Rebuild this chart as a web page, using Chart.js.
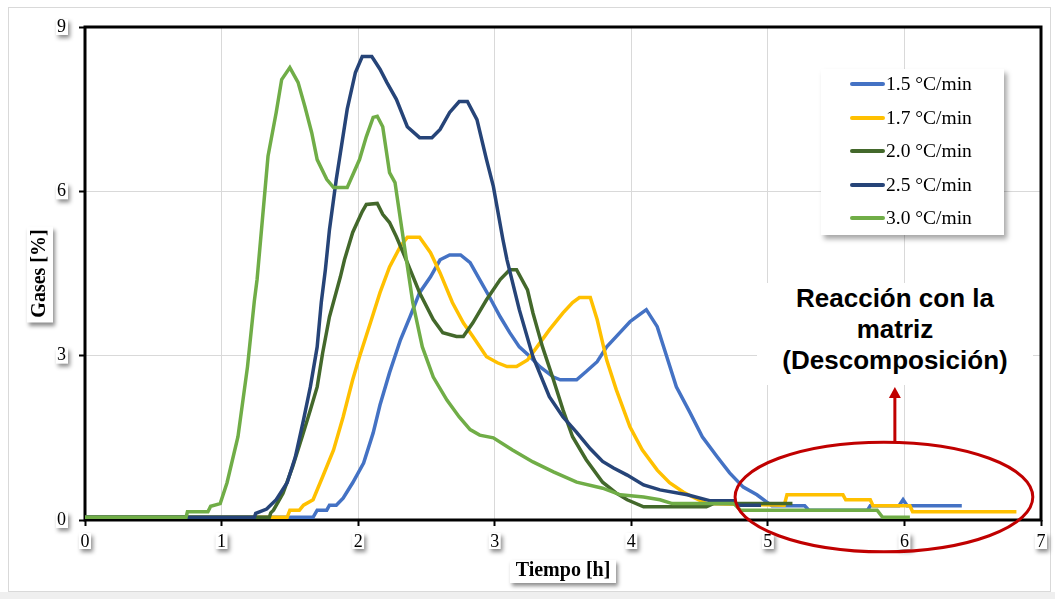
<!DOCTYPE html>
<html>
<head>
<meta charset="utf-8">
<script src="https://cdn.jsdelivr.net/npm/chart.js@4.4.1/dist/chart.umd.min.js"></script>
<style>
  html, body { margin: 0; padding: 0; background: #fff; }
  #wrap { position: relative; width: 1055px; height: 599px; overflow: hidden; }
  #chart { position: absolute; left: 0; top: 0; }
  #legend {
    position: absolute; left: 821px; top: 69px; width: 183px; height: 166px;
    background: #fff; box-shadow: 3px 4px 5px rgba(0,0,0,0.35);
    font-family: "Liberation Serif", "Times New Roman", serif; font-size: 19.5px; color: #000;
  }
  #legend .item { position: absolute; left: 29px; height: 20px; display: flex; align-items: center; white-space: nowrap; }
  #legend .sw { display: inline-block; width: 35px; height: 4px; border-radius: 2px; margin-right: 1px; }
  #note {
    position: absolute; left: 757px; top: 283px; width: 276px; height: 102px;
    background: #fff; text-align: center; line-height: 33px; color: #000;
    font: bold 26px "Liberation Sans", Arial, sans-serif;
  }
</style>
</head>
<body>
<div id="wrap">
  <canvas id="chart" width="1055" height="599"></canvas>
  <div id="legend"></div>
  <div id="note">Reacción con la<br>matriz<br>(Descomposición)</div>
</div>
<script>
// series names / colours
const seriesLabels = ["1.5 °C/min", "1.7 °C/min", "2.0 °C/min", "2.5 °C/min", "3.0 °C/min"];
const seriesColors = ["#4472C4", "#FFC000", "#43682B", "#264478", "#70AD47"];

// axis ticks
const xTicks = [0, 1, 2, 3, 4, 5, 6, 7];
const yTicks = [0, 3, 6, 9];

// 1.5 °C/min
const t15 = [0, 1.47, 1.48, 1.67, 1.70, 1.77, 1.79, 1.84, 1.89, 1.96, 2.04, 2.11, 2.16, 2.23, 2.31, 2.38, 2.45, 2.53, 2.60, 2.67, 2.75, 2.82, 2.89, 2.96, 3.04, 3.11, 3.18, 3.26, 3.33, 3.43, 3.48, 3.60, 3.67, 3.75, 3.82, 3.92, 3.99, 4.06, 4.11, 4.19, 4.26, 4.33, 4.43, 4.52, 4.63, 4.72, 4.82, 4.92, 4.99, 5.03, 5.27, 5.30, 5.73, 5.75, 5.96, 5.99, 6.02, 6.42];
const g15 = [0.05, 0.05, 0.05, 0.05, 0.18, 0.18, 0.27, 0.27, 0.40, 0.68, 1.04, 1.59, 2.10, 2.69, 3.29, 3.71, 4.15, 4.44, 4.75, 4.84, 4.84, 4.70, 4.39, 4.08, 3.71, 3.42, 3.16, 2.98, 2.80, 2.61, 2.56, 2.56, 2.71, 2.89, 3.16, 3.43, 3.62, 3.75, 3.84, 3.53, 2.98, 2.43, 1.96, 1.52, 1.15, 0.86, 0.60, 0.46, 0.33, 0.26, 0.26, 0.18, 0.18, 0.26, 0.26, 0.37, 0.26, 0.26];

// 1.7 °C/min
const t17 = [0, 1.25, 1.26, 1.48, 1.50, 1.57, 1.60, 1.67, 1.74, 1.82, 1.89, 1.96, 2.01, 2.09, 2.16, 2.23, 2.31, 2.36, 2.45, 2.53, 2.60, 2.69, 2.77, 2.84, 2.94, 3.02, 3.09, 3.16, 3.24, 3.31, 3.40, 3.50, 3.57, 3.62, 3.70, 3.75, 3.82, 3.89, 3.99, 4.08, 4.19, 4.28, 4.38, 4.45, 4.55, 5.12, 5.14, 5.55, 5.57, 5.75, 5.77, 6.04, 6.06, 6.82];
const g17 = [0.05, 0.05, 0.05, 0.05, 0.18, 0.18, 0.27, 0.37, 0.79, 1.28, 1.88, 2.56, 2.98, 3.60, 4.15, 4.62, 5.00, 5.16, 5.16, 4.88, 4.51, 3.97, 3.60, 3.35, 2.98, 2.87, 2.80, 2.80, 2.92, 3.16, 3.47, 3.78, 3.97, 4.06, 4.06, 3.66, 2.92, 2.38, 1.70, 1.28, 0.91, 0.68, 0.51, 0.42, 0.30, 0.27, 0.46, 0.46, 0.37, 0.37, 0.26, 0.26, 0.15, 0.15];

// 2.0 °C/min
const t20 = [0, 1.35, 1.36, 1.38, 1.45, 1.52, 1.59, 1.65, 1.70, 1.74, 1.79, 1.87, 1.90, 1.96, 2.03, 2.06, 2.14, 2.18, 2.23, 2.28, 2.33, 2.45, 2.55, 2.62, 2.72, 2.77, 2.84, 2.94, 3.04, 3.11, 3.16, 3.24, 3.28, 3.35, 3.43, 3.50, 3.57, 3.67, 3.79, 3.89, 3.97, 4.09, 4.55, 4.60, 5.18];
const g20 = [0.05, 0.05, 0.13, 0.18, 0.49, 0.97, 1.52, 2.01, 2.43, 3.05, 3.71, 4.44, 4.75, 5.25, 5.63, 5.76, 5.78, 5.58, 5.43, 5.17, 4.88, 4.15, 3.66, 3.42, 3.35, 3.35, 3.60, 4.02, 4.39, 4.57, 4.57, 4.20, 3.78, 3.16, 2.56, 2.01, 1.52, 1.10, 0.69, 0.49, 0.37, 0.24, 0.24, 0.30, 0.30];

// 2.5 °C/min
const t25 = [0, 1.24, 1.25, 1.33, 1.40, 1.48, 1.54, 1.60, 1.65, 1.70, 1.73, 1.76, 1.79, 1.84, 1.92, 1.98, 2.03, 2.10, 2.16, 2.21, 2.28, 2.36, 2.45, 2.54, 2.60, 2.67, 2.74, 2.80, 2.87, 2.94, 2.99, 3.06, 3.09, 3.18, 3.28, 3.40, 3.50, 3.60, 3.70, 3.79, 3.87, 3.97, 4.09, 4.21, 4.41, 4.58, 4.75, 4.78, 4.95];
const g25 = [0.05, 0.05, 0.12, 0.20, 0.37, 0.68, 1.15, 1.83, 2.43, 3.16, 3.97, 4.57, 5.30, 6.22, 7.50, 8.17, 8.46, 8.46, 8.23, 7.99, 7.68, 7.18, 6.98, 6.98, 7.13, 7.44, 7.64, 7.64, 7.31, 6.58, 6.09, 5.12, 4.75, 3.84, 2.98, 2.25, 1.88, 1.60, 1.30, 1.07, 0.95, 0.82, 0.64, 0.55, 0.46, 0.35, 0.35, 0.27, 0.27];

// 3.0 °C/min
const t30 = [0, 0.74, 0.75, 0.90, 0.92, 0.99, 1.04, 1.12, 1.19, 1.24, 1.26, 1.34, 1.40, 1.44, 1.50, 1.56, 1.61, 1.66, 1.70, 1.77, 1.82, 1.92, 2.01, 2.06, 2.11, 2.14, 2.18, 2.23, 2.27, 2.31, 2.40, 2.47, 2.55, 2.65, 2.74, 2.82, 2.89, 2.99, 3.13, 3.28, 3.43, 3.60, 3.79, 3.92, 4.09, 4.21, 4.30, 4.75, 4.80, 5.80, 5.84, 6.04];
const g30 = [0.05, 0.05, 0.15, 0.15, 0.25, 0.30, 0.68, 1.52, 2.80, 4.00, 4.39, 6.64, 7.44, 8.04, 8.26, 7.99, 7.55, 7.07, 6.58, 6.22, 6.07, 6.07, 6.58, 7.00, 7.35, 7.37, 7.18, 6.34, 6.16, 5.48, 3.97, 3.16, 2.61, 2.19, 1.88, 1.65, 1.55, 1.50, 1.28, 1.06, 0.88, 0.69, 0.58, 0.46, 0.42, 0.37, 0.30, 0.30, 0.18, 0.18, 0.05, 0.05];

const seriesTimes = [t15, t17, t20, t25, t30];
const seriesGases = [g15, g17, g20, g25, g30];

const SERIF = '"Liberation Serif", "Times New Roman", serif';
const RED = "#C00000";

// legend (HTML, real text)
const legendBox = document.getElementById("legend");
seriesLabels.forEach((label, i) => {
  const item = document.createElement("div");
  item.className = "item";
  item.style.top = (5 + i * 33.5) + "px";
  item.innerHTML = `<span class="sw" style="background:${seriesColors[i]}"></span><span>${label}</span>`;
  legendBox.appendChild(item);
});

// white boxes with shadow behind tick labels / axis titles, and the frame
const decorPlugin = {
  id: "decor",
  beforeDraw(chart) {
    const { ctx, chartArea: a, scales } = chart;
    ctx.save();
    ctx.fillStyle = "#fff";
    ctx.fillRect(0, 0, chart.width, chart.height);
    ctx.fillStyle = "#efefef";
    ctx.fillRect(0, 592, chart.width, 7);
    ctx.strokeStyle = "#d9d9d9";
    ctx.lineWidth = 1;
    ctx.strokeRect(8.5, 7.5, 1042, 584);

    ctx.shadowColor = "rgba(0,0,0,0.45)";
    ctx.shadowBlur = 4;
    ctx.shadowOffsetX = 2;
    ctx.shadowOffsetY = 3;
    ctx.fillStyle = "#fff";
    ctx.font = "18px " + SERIF;
    yTicks.forEach((v) => {
      const py = scales.y.getPixelForValue(v);
      const w = ctx.measureText(String(v)).width;
      ctx.fillRect(a.left - 19 - w - 1, py - 8, w + 3, 16);
    });
    xTicks.forEach((v) => {
      const px = scales.x.getPixelForValue(v);
      const w = ctx.measureText(String(v)).width;
      ctx.fillRect(px - w / 2 - 1.5, a.bottom + 13, w + 3, 16);
    });
    // axis title boxes
    const cy = (a.top + a.bottom) / 2;
    ctx.fillRect(27, cy - 47, 26, 96);
    const cx = (a.left + a.right) / 2;
    ctx.fillRect(cx - 53, 560, 106, 23);
    ctx.restore();
  },
  beforeDatasetsDraw(chart) {
    const { ctx, chartArea: a } = chart;
    ctx.save();
    ctx.strokeStyle = "#000";
    ctx.lineWidth = 3;
    ctx.strokeRect(a.left, a.top, a.right - a.left, a.bottom - a.top);
    ctx.restore();
  },
  afterDatasetsDraw(chart) {
    const { ctx, scales: { x, y } } = chart;
    // ellipse round the decomposition zone (data units)
    const cx = x.getPixelForValue(5.85);
    const cy = y.getPixelForValue(0.42);
    const rx = x.getPixelForValue(5.85 + 1.09) - cx;
    const ry = cy - y.getPixelForValue(1.42);
    ctx.save();
    ctx.strokeStyle = RED;
    ctx.lineWidth = 3;
    ctx.beginPath();
    ctx.ellipse(cx, cy, rx, ry, 0, 0, Math.PI * 2);
    ctx.stroke();
    // arrow up to the note
    const ax = x.getPixelForValue(5.93);
    const y0 = cy - ry;
    const y1 = y.getPixelForValue(2.43);
    ctx.beginPath();
    ctx.moveTo(ax, y0);
    ctx.lineTo(ax, y1 + 9);
    ctx.stroke();
    ctx.fillStyle = RED;
    ctx.beginPath();
    ctx.moveTo(ax, y1);
    ctx.lineTo(ax - 6, y1 + 11);
    ctx.lineTo(ax + 6, y1 + 11);
    ctx.closePath();
    ctx.fill();
    ctx.restore();
  },
};

const datasets = seriesLabels.map((label, i) => ({
  label,
  data: seriesTimes[i].map((t, j) => ({ x: t, y: seriesGases[i][j] })),
  borderColor: seriesColors[i],
  backgroundColor: seriesColors[i],
  borderWidth: 3.5,
  pointRadius: 0,
  tension: 0,
  fill: false,
  order: seriesLabels.length - i, // last series on top, as in the original
}));

new Chart(document.getElementById("chart"), {
  type: "line",
  data: { datasets },
  plugins: [decorPlugin],
  options: {
    responsive: false,
    animation: false,
    devicePixelRatio: 1,
    layout: { padding: { top: 27, right: 14, bottom: 0, left: 0 } },
    plugins: { legend: { display: false }, tooltip: { enabled: false } },
    scales: {
      x: {
        type: "linear",
        min: 0,
        max: 7,
        afterBuildTicks: (s) => { s.ticks = xTicks.map((v) => ({ value: v })); },
        afterFit: (s) => { s.height = 79; },
        border: { display: false },
        grid: { color: "#d9d9d9", lineWidth: 1, tickColor: "#000", tickWidth: 2, tickLength: 6 },
        ticks: { color: "#000", font: { family: SERIF, size: 18 }, padding: 5, maxRotation: 0 },
        title: {
          display: true, text: "Tiempo [h]", color: "#000",
          font: { family: SERIF, size: 20, weight: "bold" }, padding: { top: 0, bottom: 16 },
        },
      },
      y: {
        type: "linear",
        min: 0,
        max: 9,
        afterBuildTicks: (s) => { s.ticks = yTicks.map((v) => ({ value: v })); },
        afterFit: (s) => { s.width = 85; },
        border: { display: false },
        grid: { color: "#d9d9d9", lineWidth: 1, tickColor: "#000", tickWidth: 2, tickLength: 6 },
        ticks: { color: "#000", font: { family: SERIF, size: 18 }, padding: 13 },
        title: {
          display: true, text: "Gases [%]", color: "#000",
          font: { family: SERIF, size: 20, weight: "bold" }, padding: { top: 28, bottom: 0 },
        },
      },
    },
  },
});
</script>
</body>
</html>
